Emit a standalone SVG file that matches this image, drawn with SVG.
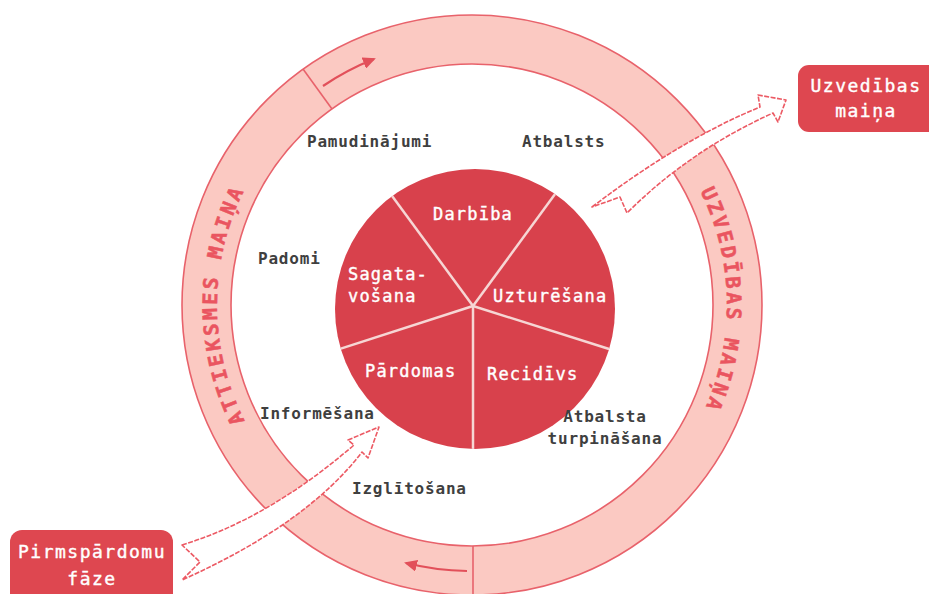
<svg xmlns="http://www.w3.org/2000/svg" width="929" height="594" viewBox="0 0 929 594">
<style>
.ring{fill:#fbc9c2;stroke:#e8626b;stroke-width:1.6}
.div{stroke:#e8626b;stroke-width:1.6;fill:none}
.rlab{font-family:"DejaVu Sans Mono",monospace;font-weight:bold;font-size:20px;fill:#ea5560;stroke:#ea5560;stroke-width:0.5;letter-spacing:3px}
.pie{fill:#d8414c}
.sep{stroke:#f6d6d4;stroke-width:2.5}
.plab{font-family:"DejaVu Sans Mono",monospace;font-size:17px;fill:#fff;stroke:#fff;stroke-width:0.4;letter-spacing:1.2px}
.olab{font-family:"DejaVu Sans Mono",monospace;font-weight:bold;font-size:16px;fill:#3f3f3f;letter-spacing:0.8px}
.box{fill:#de4750}
.blab{font-family:"DejaVu Sans Mono",monospace;font-size:18px;fill:#fff;stroke:#fff;stroke-width:0.4;letter-spacing:1.5px;text-anchor:middle}
.big{fill:#fff;stroke:#ec5a64;stroke-width:1.6;stroke-dasharray:5 1.5;stroke-linejoin:round}
.flow{fill:none;stroke:#e2505a;stroke-width:2.2}
</style>
<defs>
<marker id="ah" markerUnits="userSpaceOnUse" markerWidth="14" markerHeight="12" refX="11" refY="6" orient="auto">
<path d="M0,0 L13,6 L0,12 Z" fill="#e2505a"/>
</marker>
<path id="arcL" d="M276.7,468.9 A255,255 0 0 1 276.7,141.1"/>
<path id="arcR" d="M667.3,141.1 A255,255 0 0 1 667.3,468.9"/>
<clipPath id="pieClip"><circle cx="475" cy="309" r="140"/></clipPath>
</defs>

<g id="ring">
<path class="ring" fill-rule="evenodd" d="M182,305 a290,290 0 1,0 580,0 a290,290 0 1,0 -580,0 Z M231,305 a241,241 0 1,0 482,0 a241,241 0 1,0 -482,0 Z"/>
<line class="div" x1="303" y1="69" x2="332" y2="109"/>
<line class="div" x1="473" y1="546" x2="473" y2="594"/>
<text class="rlab" text-anchor="middle"><textPath href="#arcL" startOffset="50%">ATTIEKSMES MAIŅA</textPath></text>
<text class="rlab" text-anchor="middle"><textPath href="#arcR" startOffset="48.5%">UZVEDĪBAS MAIŅA</textPath></text>
</g>

<g id="pie">
<circle class="pie" cx="475" cy="309" r="140"/>
<g clip-path="url(#pieClip)">
<line class="sep" x1="473" y1="306" x2="345" y2="132"/>
<line class="sep" x1="473" y1="306" x2="602" y2="130"/>
<line class="sep" x1="473" y1="306" x2="647" y2="361"/>
<line class="sep" x1="473" y1="306" x2="473" y2="480"/>
<line class="sep" x1="473" y1="306" x2="296" y2="363"/>
</g>
</g>
<g id="darbiba"><text class="plab" x="473" y="220" text-anchor="middle">Darbība</text></g>
<g id="sagatavosana"><text class="plab" x="348" y="280">Sagata-</text><text class="plab" x="348" y="302">vošana</text></g>
<g id="uzturesana"><text class="plab" x="493" y="302">Uzturēšana</text></g>
<g id="pardomas"><text class="plab" x="365" y="377">Pārdomas</text></g>
<g id="recidivs"><text class="plab" x="487" y="380">Recidīvs</text></g>

<g id="lbl-pamudinajumi"><text class="olab" x="307" y="147">Pamudinājumi</text></g>
<g id="lbl-atbalsts"><text class="olab" x="522" y="147">Atbalsts</text></g>
<g id="lbl-padomi"><text class="olab" x="258" y="264">Padomi</text></g>
<g id="lbl-informesana"><text class="olab" x="260" y="419">Informēšana</text></g>
<g id="lbl-izglitosana"><text class="olab" x="352" y="494">Izglītošana</text></g>
<g id="lbl-atbalsta"><text class="olab" x="605" y="422" text-anchor="middle">Atbalsta</text><text class="olab" x="605" y="444" text-anchor="middle">turpināšana</text></g>

<g id="connectors">
<path class="flow" d="M323,86 A265,265 0 0 1 374,59" marker-end="url(#ah)"/>
<path class="flow" d="M467,571 A266,266 0 0 1 406,563" marker-end="url(#ah)"/>
<path class="big" d="M182,545 Q268,519 354,445 L348,440 L379,427 L368,458 L362,452 Q307,524 182,580 L200,562 Z"/>
<path class="big" d="M592,207 Q680,140 760,107 L758,95 L786,100 L778,122 L773,113 Q689,151 627,213 L620,197 Z"/>
</g>

<g id="box-uzvedibas">
<rect class="box" x="798" y="65" width="145" height="67" rx="11"/>
<text class="blab" x="866" y="92">Uzvedības</text>
<text class="blab" x="866" y="117">maiņa</text>
</g>
<g id="box-pirmspardomu">
<rect class="box" x="10" y="530" width="163" height="80" rx="12"/>
<text class="blab" x="92" y="558">Pirmspārdomu</text>
<text class="blab" x="92" y="585">fāze</text>
</g>
</svg>
